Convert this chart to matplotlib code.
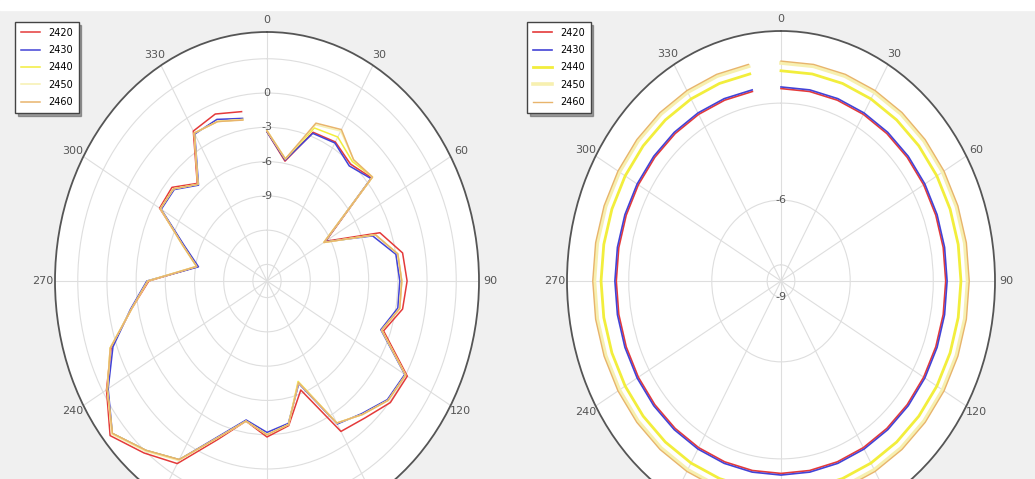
import numpy as np
import matplotlib
matplotlib.use('Agg')
import matplotlib.pyplot as plt
from matplotlib.patches import Rectangle

# frequencies (legend)
freqs = ['2420', '2430', '2440', '2450', '2460']
colors = ['#e43a3a', '#4343d6', '#f2ee3c', '#f7f0b0', '#e8b46c']

# measured angles (deg), one sample every 10 deg, 0..350
angles = np.arange(0, 360, 10)

# left pattern, gain in dB for each frequency
left_2420 = [-3.4, -5.8, -2.6, -2.4, -3.1, -2.4, -9.5, -4.1, -2.3, -2.05, -2.3, -3.7,
             0.2, 0.1, -0.8, -1.25, -6.3, -3.6, -2.8, -4.0, -1.7, 2.0, 3.2, 4.6,
             2.6, 0.6, -2.3, -4.3, -9.2, -7.3, -3.7, -3.7, -5.3, -1.3, -0.9, -1.4]
left_2430 = [-3.4, -5.7, -2.7, -2.5, -3.3, -2.5, -9.6, -4.9, -3.0, -2.8, -2.8, -4.0,
             -0.1, -0.3, -1.3, -2.0, -6.9, -3.8, -3.2, -4.1, -2.0, 1.6, 2.9, 4.3,
             2.4, 0.4, -2.2, -4.1, -9.3, -7.4, -3.9, -4.0, -5.5, -1.6, -1.4, -2.0]
left_2440 = [-3.3, -5.6, -2.2, -1.9, -2.8, -2.3, -9.7, -4.6, -2.8, -2.6, -2.6, -3.9,
             0.0, -0.2, -1.2, -2.1, -7.1, -3.7, -3.0, -4.0, -1.9, 1.6, 2.9, 4.3,
             2.5, 0.7, -2.3, -4.2, -9.1, -7.2, -3.8, -3.9, -5.4, -1.5, -1.6, -2.1]
left_2450 = [-3.3, -5.6, -1.9, -1.3, -2.6, -2.3, -9.7, -4.6, -2.8, -2.6, -2.6, -3.9,
             0.0, -0.2, -1.2, -2.1, -7.0, -3.7, -3.0, -4.0, -1.9, 1.7, 3.0, 4.4,
             2.5, 0.7, -2.3, -4.2, -9.1, -7.2, -3.8, -3.9, -5.4, -1.5, -1.6, -2.1]
left_2460 = [-3.3, -5.6, -1.75, -1.15, -2.6, -2.3, -9.7, -4.6, -2.8, -2.6, -2.6, -3.9,
             0.0, -0.2, -1.2, -2.1, -7.0, -3.7, -3.0, -4.0, -1.9, 1.6, 2.9, 4.3,
             2.5, 0.7, -2.3, -4.2, -9.1, -7.2, -3.8, -3.9, -5.4, -1.5, -1.6, -2.15]

# right pattern (near omni), gain in dB
right_2420 = [-2.55] * 36
right_2430 = [-2.5] * 36
right_2440 = [-2.0] * 36
right_2450 = [-1.76] * 36
right_2460 = [-1.7] * 36

W, H = 1035, 479
fig = plt.figure(figsize=(W / 100, H / 100), dpi=100, facecolor='#f0f0f0')
fig.add_artist(Rectangle((0, 1 - 10 / H), 1, 10 / H, transform=fig.transFigure,
                         color='white', zorder=-5))

tick_font = dict(family=['Liberation Sans Narrow', 'DejaVu Sans'], size=8, color='#555555')
grid_col = '#dedede'
# bottom angle labels fall outside the picture
theta_labels = ['' if a in (150, 180, 210) else str(a) for a in range(0, 360, 30)]


def polar_axes(cx, cy, rx, ry):
    ax = fig.add_axes([(cx - rx) / W, 1 - (cy + ry) / H, 2 * rx / W, 2 * ry / H],
                      projection='polar')
    ax.set_aspect('auto')
    ax.set_theta_zero_location('N')
    ax.set_theta_direction(-1)
    ax.set_facecolor('white')
    ax.set_thetagrids(range(0, 360, 30), theta_labels)
    for lab in ax.get_xticklabels():
        lab.set_fontfamily(tick_font['family'])
        lab.set_fontsize(tick_font['size'])
        lab.set_color(tick_font['color'])
    ax.tick_params(axis='x', pad=-2)
    ax.grid(True, color=grid_col, lw=0.8)
    ax.spines['polar'].set_color('#555555')
    ax.spines['polar'].set_linewidth(1.3)
    return ax


def add_legend(ax, x0, y0):
    ax.legend(loc='upper left', bbox_to_anchor=(x0 / W, 1 - y0 / H),
              bbox_transform=fig.transFigure, prop=dict(family=tick_font['family'], size=7),
              frameon=True, fancybox=False, shadow=True, edgecolor='#444444',
              handlelength=2.0, handletextpad=0.8, labelspacing=0.75, borderpad=0.6,
              borderaxespad=0)


# left plot
ax1 = polar_axes(267, 281, 212, 249)
th = np.deg2rad(angles)
left = [left_2420, left_2430, left_2440, left_2450, left_2460]
for f, c, vals in zip(freqs, colors, left):
    ax1.plot(th, vals, color=c, lw=1.1, label=f)
ax1.set_rlim(-16.45, 5.34)
ax1.set_yticks([-15, -12, -9, -6, -3, 0, 3])
ax1.set_yticklabels([])
for v in [0, -3, -6, -9]:
    ax1.text(0, v, str(v), ha='center', va='center', **tick_font)
add_legend(ax1, 15, 22)

# right plot
ax2 = polar_axes(781, 281, 214, 250)
right = [right_2420, right_2430, right_2440, right_2450, right_2460]
widths = [1.2, 1.2, 2.0, 2.6, 1.0]
for f, c, vals, lw in zip(freqs, colors, right, widths):
    ax2.plot(th, vals, color=c, lw=lw, label=f)
ax2.set_rlim(-8.5, -0.77)
ax2.set_yticks([-6, -3])
ax2.set_yticklabels([])
ring = np.linspace(0, 2 * np.pi, 120)
ax2.plot(ring, np.full(ring.size, -8.0), color=grid_col, lw=0.8, zorder=0)
ax2.text(0, -6, '-6', ha='center', va='center', **tick_font)
ax2.text(np.pi, -8.0, '-9', ha='center', va='center', **tick_font)
add_legend(ax2, 527, 22)

fig.savefig('out.png', dpi=100, facecolor=fig.get_facecolor())
